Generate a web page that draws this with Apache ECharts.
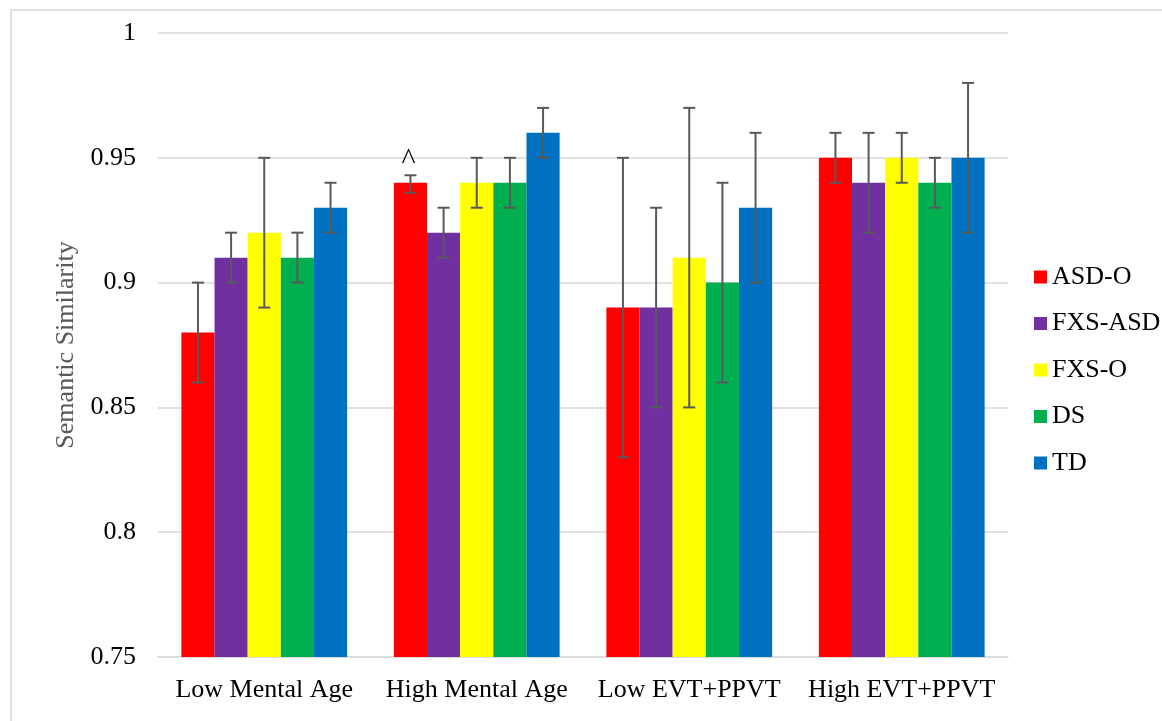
<!DOCTYPE html>
<html>
<head>
<meta charset="utf-8">
<script src="https://cdn.jsdelivr.net/npm/echarts@6/dist/echarts.min.js"></script>
<style>
html,body{margin:0;padding:0;background:#fff;}
#chart{width:1162px;height:721px;}
</style>
</head>
<body>
<div id="chart"></div>
<script>
const categories = ['Low Mental Age', 'High Mental Age', 'Low EVT+PPVT', 'High EVT+PPVT'];
const seriesNames = ['ASD-O', 'FXS-ASD', 'FXS-O', 'DS', 'TD'];
const colors = ['#FF0000', '#7030A0', '#FFFF00', '#00B050', '#0070C0'];

const asdO   = [0.88, 0.94, 0.89, 0.95];
const fxsAsd = [0.91, 0.92, 0.89, 0.94];
const fxsO   = [0.92, 0.94, 0.91, 0.95];
const ds     = [0.91, 0.94, 0.90, 0.94];
const td     = [0.93, 0.96, 0.93, 0.95];

const asdOLow   = [0.86, 0.936, 0.83, 0.94];
const asdOHigh  = [0.90, 0.943, 0.95, 0.96];
const fxsAsdLow = [0.90, 0.91, 0.85, 0.92];
const fxsAsdHigh= [0.92, 0.93, 0.93, 0.96];
const fxsOLow   = [0.89, 0.93, 0.85, 0.94];
const fxsOHigh  = [0.95, 0.95, 0.97, 0.96];
const dsLow     = [0.90, 0.93, 0.86, 0.93];
const dsHigh    = [0.92, 0.95, 0.94, 0.95];
const tdLow     = [0.92, 0.95, 0.90, 0.92];
const tdHigh    = [0.94, 0.97, 0.96, 0.98];

const asdOMarks = ['', '^', '', ''];

const yTicks = ['0.75', '0.8', '0.85', '0.9', '0.95', '1'];

const values = [asdO, fxsAsd, fxsO, ds, td];
const lows = [asdOLow, fxsAsdLow, fxsOLow, dsLow, tdLow];
const highs = [asdOHigh, fxsAsdHigh, fxsOHigh, dsHigh, tdHigh];
const marks = [asdOMarks, ['', '', '', ''], ['', '', '', ''], ['', '', '', ''], ['', '', '', '']];

const FONT = 'Liberation Serif';
const GAP = 0.22;

const series = [];
seriesNames.forEach((name, s) => {
  series.push({
    name: name,
    type: 'bar',
    data: values[s],
    itemStyle: { color: colors[s] },
    barGap: '0%',
    barCategoryGap: (GAP * 100) + '%',
    z: 2
  });
});
seriesNames.forEach((name, s) => {
  series.push({
    type: 'custom',
    name: name + ' err',
    z: 5,
    silent: true,
    data: categories.map((c, i) => [i, lows[s][i], highs[s][i]]),
    renderItem: function (params, api) {
      const idx = api.value(0);
      const lo = api.coord([idx, api.value(1)]);
      const hi = api.coord([idx, api.value(2)]);
      const bandW = api.size([1, 0])[0];
      const barW = bandW * (1 - GAP) / seriesNames.length;
      const x = lo[0] + (s - (seriesNames.length - 1) / 2) * barW;
      const cap = 6;
      const st = { stroke: '#595959', lineWidth: 2 };
      const children = [
        { type: 'line', shape: { x1: x, y1: lo[1], x2: x, y2: hi[1] }, style: st },
        { type: 'line', shape: { x1: x - cap, y1: lo[1], x2: x + cap, y2: lo[1] }, style: st },
        { type: 'line', shape: { x1: x - cap, y1: hi[1], x2: x + cap, y2: hi[1] }, style: st }
      ];
      const m = marks[s][idx];
      if (m) {
        children.push({
          type: 'text',
          style: { text: m, x: x - 2, y: hi[1] - 14, align: 'center', verticalAlign: 'middle',
                   fontFamily: FONT, fontSize: 30, fill: '#000' }
        });
      }
      return { type: 'group', children: children };
    }
  });
});

const chart = echarts.init(document.getElementById('chart'), null, { renderer: 'canvas' });
chart.setOption({
  animation: false,
  backgroundColor: '#fff',
  textStyle: { fontFamily: FONT },
  graphic: [
    { type: 'rect', shape: { x: 11, y: 10, width: 1200, height: 800 },
      style: { fill: 'none', stroke: '#D9D9D9', lineWidth: 1.5 }, z: -1 },
    { type: 'text', x: 0, y: 4, style: { text: 'Variative', fontFamily: FONT, fontSize: 24, fill: '#000',
      verticalAlign: 'bottom' } }
  ],
  grid: { left: 158, right: 154, top: 33, bottom: 64 },
  legend: {
    orient: 'vertical',
    left: 1034,
    top: 264,
    padding: 0,
    itemWidth: 13,
    itemHeight: 13,
    itemGap: 20.5,
    icon: 'rect',
    data: seriesNames,
    textStyle: { fontFamily: FONT, fontSize: 26, color: '#000', lineHeight: 26 }
  },
  xAxis: {
    type: 'category',
    data: categories,
    axisLine: { lineStyle: { color: '#D9D9D9', width: 1.5 } },
    axisTick: { show: false },
    axisLabel: { interval: 0, fontFamily: FONT, fontSize: 26, color: '#000', margin: 20 }
  },
  yAxis: {
    type: 'value',
    min: 0.75,
    max: 1,
    interval: 0.05,
    name: 'Semantic Similarity',
    nameLocation: 'middle',
    nameGap: 79,
    nameTextStyle: { fontFamily: FONT, fontSize: 26, color: '#595959' },
    axisLine: { show: false },
    axisTick: { show: false },
    splitLine: { lineStyle: { color: '#D9D9D9', width: 1.5 } },
    axisLabel: {
      fontFamily: FONT, fontSize: 26, color: '#000', margin: 22,
      formatter: function (v) {
        const i = Math.round((v - 0.75) / 0.05);
        return yTicks[i] !== undefined ? yTicks[i] : '';
      }
    }
  },
  series: series
});
</script>
</body>
</html>
